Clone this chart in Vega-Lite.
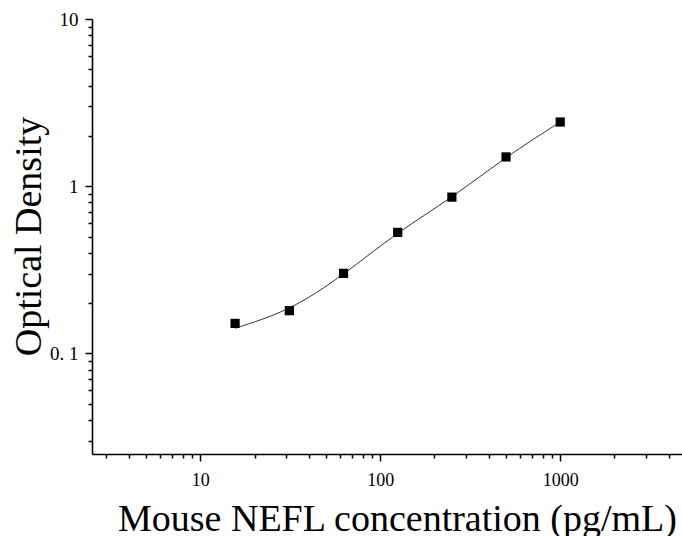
{
  "$schema": "https://vega.github.io/schema/vega-lite/v6.json",
  "width": 594,
  "height": 435,
  "autosize": {"type": "none"},
  "padding": {"left": 92, "top": 19, "right": 0, "bottom": 82},
  "background": "white",
  "config": {"view": {"stroke": null}, "font": "Liberation Serif"},
  "datasets": {
    "points": [
      {"conc": 15.6, "od": 0.151},
      {"conc": 31.25, "od": 0.180},
      {"conc": 62.5, "od": 0.301},
      {"conc": 125, "od": 0.529},
      {"conc": 250, "od": 0.860},
      {"conc": 500, "od": 1.496},
      {"conc": 1000, "od": 2.42}
    ],
    "curve": [
      {"conc": 15.6, "od": 0.1414},
      {"conc": 31.25, "od": 0.187},
      {"conc": 62.5, "od": 0.299},
      {"conc": 125, "od": 0.522},
      {"conc": 250, "od": 0.864},
      {"conc": 500, "od": 1.48},
      {"conc": 1000, "od": 2.42}
    ]
  },
  "encoding": {
    "x": {
      "field": "conc",
      "type": "quantitative",
      "scale": {"type": "log", "domain": [2.5, 5000], "nice": false},
      "axis": {
        "values": [3,4,5,6,7,8,9,10,20,30,40,50,60,70,80,90,100,200,300,400,500,600,700,800,900,1000,2000,3000,4000,5000],
        "labelExpr": "datum.value==10 ? '10' : datum.value==100 ? '100' : datum.value==1000 ? '1000' : ''",
        "tickSize": {"condition": {"test": "datum.value==10||datum.value==100||datum.value==1000", "value": 7}, "value": 4},
        "grid": false,
        "domainColor": "black",
        "domainWidth": 1.6,
        "tickColor": "black",
        "tickWidth": 1.5,
        "labelFont": "Liberation Serif",
        "labelFontSize": 18,
        "labelColor": "black",
        "labelPadding": 10,
        "labelFlush": false,
        "labelOverlap": false,
        "title": "Mouse NEFL concentration (pg/mL)",
        "titleFont": "Liberation Serif",
        "titleFontSize": 38,
        "titleFontWeight": "normal",
        "titleColor": "black",
        "titleX": 305,
        "titleY": 76,
        "titleBaseline": "alphabetic",
        "titleAlign": "center"
      }
    },
    "y": {
      "field": "od",
      "type": "quantitative",
      "scale": {"type": "log", "domain": [0.025, 10], "nice": false},
      "axis": {
        "values": [0.03,0.04,0.05,0.06,0.07,0.08,0.09,0.1,0.2,0.3,0.4,0.5,0.6,0.7,0.8,0.9,1,2,3,4,5,6,7,8,9,10],
        "labelExpr": "datum.value==0.1 ? '0. 1' : datum.value==1 ? '1' : datum.value==10 ? '10' : ''",
        "tickSize": {"condition": {"test": "datum.value==0.1||datum.value==1||datum.value==10", "value": 7}, "value": 4},
        "grid": false,
        "domainColor": "black",
        "domainWidth": 1.6,
        "tickColor": "black",
        "tickWidth": 1.5,
        "labelFont": "Liberation Serif",
        "labelFontSize": 19,
        "labelColor": "black",
        "labelPadding": 7,
        "labelFlush": false,
        "labelOverlap": false,
        "title": "Optical Density",
        "titleFont": "Liberation Serif",
        "titleFontSize": 38,
        "titleFontWeight": "normal",
        "titleColor": "black",
        "titleAngle": -90,
        "titleX": -52,
        "titleY": 217,
        "titleBaseline": "alphabetic",
        "titleAlign": "center"
      }
    }
  },
  "layer": [
    {
      "data": {"name": "curve"},
      "mark": {"type": "line", "interpolate": "natural", "stroke": "#333333", "strokeWidth": 1}
    },
    {
      "data": {"name": "points"},
      "mark": {"type": "point", "shape": "square", "filled": true, "color": "black", "opacity": 1, "size": 85}
    }
  ]
}
